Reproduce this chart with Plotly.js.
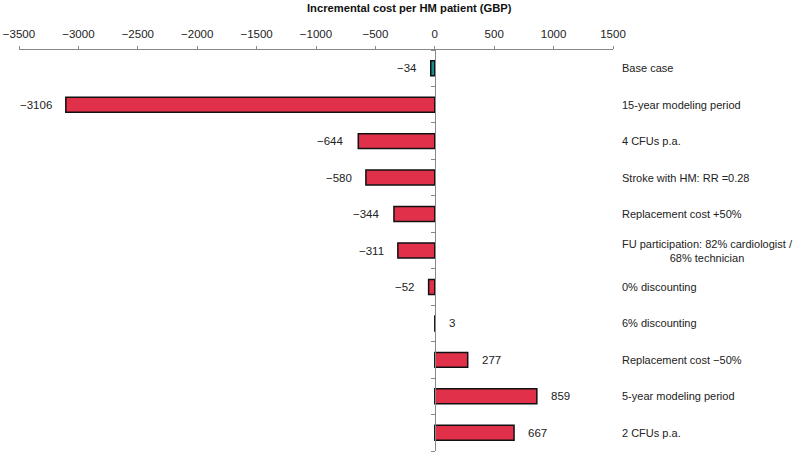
<!DOCTYPE html>
<html>
<head>
<meta charset="utf-8">
<script src="https://cdn.plot.ly/plotly-3.0.1.min.js"></script>
<style>html,body{margin:0;padding:0;background:#fff;}#chart{width:796px;height:455px;}</style>
</head>
<body>
<div id="chart"></div>
<script>
const categories = [
  "Base case",
  "15-year modeling period",
  "4 CFUs p.a.",
  "Stroke with HM: RR =0.28",
  "Replacement cost +50%",
  "FU participation: 82% cardiologist /<br>68% technician",
  "0% discounting",
  "6% discounting",
  "Replacement cost \u221250%",
  "5-year modeling period",
  "2 CFUs p.a."
];
const values = [-34, -3106, -644, -580, -344, -311, -52, 3, 277, 859, 667];
const xTicks = [-3500, -3000, -2500, -2000, -1500, -1000, -500, 0, 500, 1000, 1500];

const RED = "#e0304a", TEAL = "#1b8a8e";
const fontFam = "'Liberation Sans', Arial, sans-serif";
const fmt = v => (v < 0 ? "\u2212" + Math.abs(v) : String(v));
const idx = categories.map((c, i) => i);

const trace = {
  type: "bar",
  orientation: "h",
  x: values,
  y: idx,
  width: 0.41,
  marker: {
    color: idx.map(i => i === 0 ? TEAL : RED),
    line: {color: "#111", width: 1.5}
  },
  hoverinfo: "skip"
};

const annotations = [];
values.forEach((v, i) => {
  annotations.push({
    x: v, y: i, xref: "x", yref: "y",
    text: fmt(v), showarrow: false,
    xanchor: v < 0 ? "right" : "left",
    xshift: v < 0 ? -12 : 12,
    font: {family: fontFam, size: 11.5, color: "#222"}
  });
  annotations.push({
    x: 1.0118, y: i, xref: "paper", yref: "y",
    text: categories[i], showarrow: false,
    xanchor: "left", align: "center",
    font: {family: fontFam, size: 11, color: "#222"}
  });
});
annotations.push({
  x: 0.657, y: 1 + (50 - 8) / 401, xref: "paper", yref: "paper",
  text: "<b>Incremental cost per HM patient (GBP)</b>",
  showarrow: false, xanchor: "center", yanchor: "middle",
  font: {family: fontFam, size: 11.2, color: "#111"}
});

const boundaries = [];
for (let k = -0.5; k <= categories.length - 0.5; k += 1) boundaries.push(k);

const layout = {
  width: 796, height: 455,
  margin: {l: 19, r: 183, t: 50, b: 4},
  paper_bgcolor: "#fff", plot_bgcolor: "#fff",
  showlegend: false,
  xaxis: {
    side: "top",
    range: [-3500, 1500],
    tickvals: xTicks,
    ticktext: xTicks.map(fmt),
    showgrid: false, zeroline: false,
    showline: true, linecolor: "#888", linewidth: 1,
    ticks: "outside", ticklen: 3, tickcolor: "#888",
    tickfont: {family: fontFam, size: 11.5, color: "#222"},
    ticklabelstandoff: 3,
    fixedrange: true
  },
  yaxis: {
    range: [categories.length - 0.5, -0.5],
    anchor: "free", position: 0.7,
    tickvals: boundaries,
    showticklabels: false,
    showgrid: false, zeroline: false,
    showline: true, linecolor: "#888", linewidth: 1,
    ticks: "outside", ticklen: 4, tickcolor: "#888",
    fixedrange: true
  },
  annotations: annotations
};

Plotly.newPlot("chart", [trace], layout, {displayModeBar: false, staticPlot: true});
</script>
</body>
</html>
